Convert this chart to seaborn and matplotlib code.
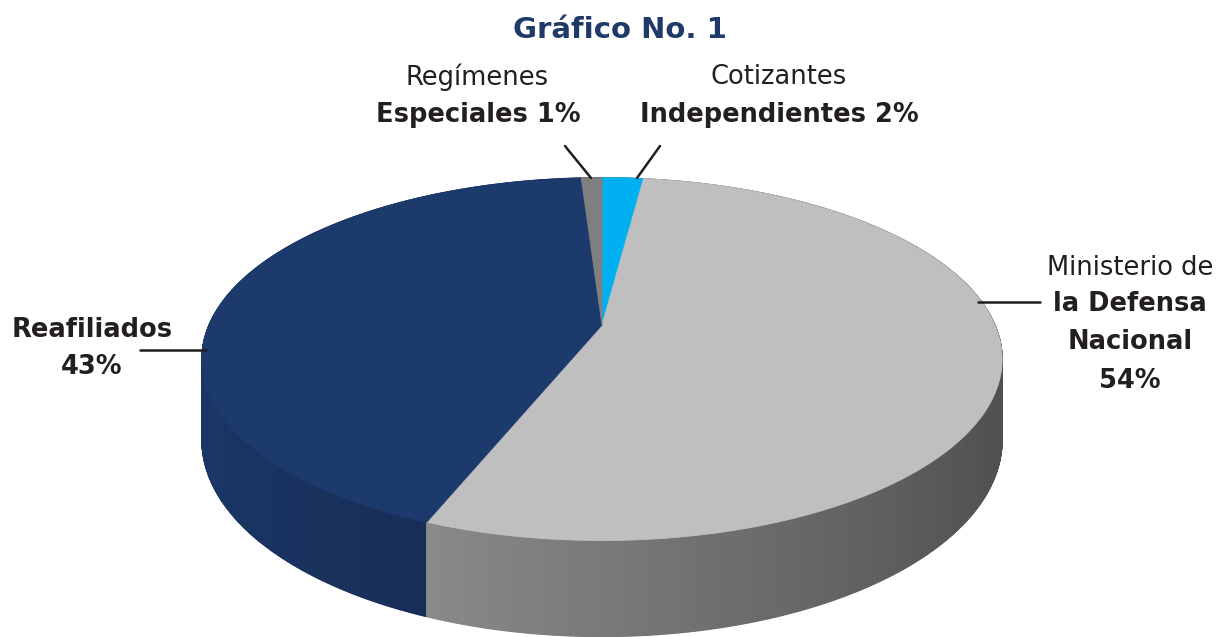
import numpy as np
import pandas as pd
import matplotlib
matplotlib.use("Agg")
import matplotlib.pyplot as plt
import seaborn as sns
from matplotlib.patches import Polygon
from matplotlib.colors import to_rgb

# Datos del gráfico (orden horario desde las 12)
categorias = ["Cotizantes Independientes", "Ministerio de la Defensa Nacional",
              "Reafiliados", "Regímenes Especiales"]
porcentajes = [2, 54, 43, 1]
colores = ["#00b0f0", "#bfbfbf", "#1d3a6d", "#7f7f7f"]

sns.set_theme(style="white")
plt.rcParams["font.family"] = ["DejaVu Sans"]

fig = plt.figure(figsize=(12.3, 6.37), dpi=100)
ax = fig.add_axes([0, 0, 1, 1])
ax.set_xlim(0, 1230)
ax.set_ylim(637, 0)
ax.axis("off")

# geometría de la torta 3D
CX, CY = 602, 325
RX, RY = 393, 175
K = 0.188   # perspectiva
H = 78      # grosor


def punto(theta):
    f = 1 / (1 + K * np.sin(theta))
    return CX + RX * np.cos(theta) * f, CY - RY * np.sin(theta) * f, f


df = pd.DataFrame({"cat": categorias, "pct": porcentajes, "color": colores})
df["fin"] = 90 - 3.6 * df["pct"].cumsum()
df["ini"] = df["fin"] + 3.6 * df["pct"]

# paredes laterales
quads = []
for _, r in df.iterrows():
    n = max(int((r["ini"] - r["fin"]) / 0.25), 2)
    angs = np.radians(np.linspace(r["fin"], r["ini"], n + 1))
    base = np.array(to_rgb(r["color"]))
    for a0, a1 in zip(angs[:-1], angs[1:]):
        x0, y0, f0 = punto(a0)
        x1, y1, f1 = punto(a1)
        am = (a0 + a1) / 2
        s = np.clip(0.635 - 0.229 * np.cos(am), 0.38, 0.9)
        if r["cat"] == "Reafiliados":
            s = min(s + 0.08, 0.95)
        col = np.clip(base * s, 0, 1)
        poly = [(x0, y0), (x1, y1), (x1, y1 + H * f1), (x0, y0 + H * f0)]
        quads.append((-np.sin(am), poly, col))

for _, poly, col in sorted(quads, key=lambda q: q[0]):
    ax.add_patch(Polygon(poly, closed=True, facecolor=col, edgecolor=col, lw=0.8))

# cara superior
for _, r in df.iterrows():
    angs = np.radians(np.linspace(r["ini"], r["fin"], 200))
    xs, ys, _f = punto(angs)
    pts = [(CX, CY)] + list(zip(xs, ys))
    ax.add_patch(Polygon(pts, closed=True, facecolor=r["color"], edgecolor=r["color"], lw=0.6))

# título
ax.text(620, 30, "Gráfico No. 1", ha="center", va="center", fontsize=21,
        fontweight="bold", color="#1f3a68")

# etiquetas
negro = "#231f20"
fs = 18.5
ax.text(477, 77, "Regímenes", ha="center", va="center", fontsize=fs, color=negro)
ax.text(478, 115, "Especiales 1%", ha="center", va="center", fontsize=fs,
        fontweight="bold", color=negro)
ax.text(779, 77, "Cotizantes", ha="center", va="center", fontsize=fs, color=negro)
ax.text(779, 115, "Independientes 2%", ha="center", va="center", fontsize=fs,
        fontweight="bold", color=negro)
ax.text(92, 330, "Reafiliados", ha="center", va="center", fontsize=fs,
        fontweight="bold", color=negro)
ax.text(92, 367, "43%", ha="center", va="center", fontsize=fs,
        fontweight="bold", color=negro)
ax.text(1130, 268, "Ministerio de", ha="center", va="center", fontsize=fs, color=negro)
ax.text(1130, 304, "la Defensa", ha="center", va="center", fontsize=fs,
        fontweight="bold", color=negro)
ax.text(1130, 342, "Nacional", ha="center", va="center", fontsize=fs,
        fontweight="bold", color=negro)
ax.text(1130, 381, "54%", ha="center", va="center", fontsize=fs,
        fontweight="bold", color=negro)

# líneas guía
ax.plot([565, 591], [146, 178], color=negro, lw=1.8)
ax.plot([660, 637], [146, 178], color=negro, lw=1.8)
ax.plot([140, 206], [350, 350], color=negro, lw=1.8)
ax.plot([978, 1040], [302, 302], color=negro, lw=1.8)

fig.savefig("out.png", dpi=100)
